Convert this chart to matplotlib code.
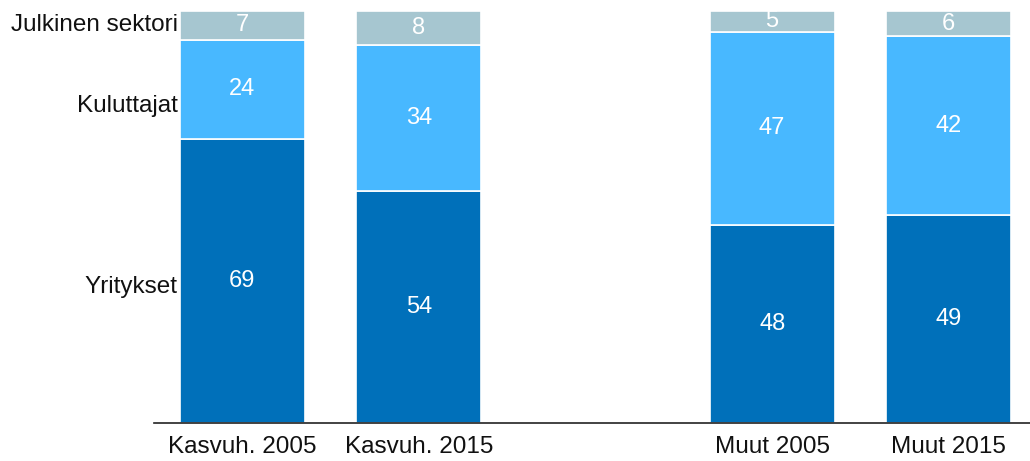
import matplotlib
matplotlib.use("Agg")
import matplotlib.pyplot as plt
import numpy as np

plt.rcParams['font.family'] = ['Liberation Sans', 'DejaVu Sans']

bars = ["Kasvuh. 2005", "Kasvuh. 2015", "Muut 2005", "Muut 2015"]
positions = [0, 1, 3, 4]
series = ["Yritykset", "Kuluttajat", "Julkinen sektori"]
yritykset = [69, 54, 48, 49]
kuluttajat = [24, 34, 47, 42]
julkinen = [7, 8, 5, 6]
label_y = [33, 77, 96.5]

colors = ["#0070BA", "#48B8FF", "#A6C6D0"]

data = np.array([yritykset, kuluttajat, julkinen], dtype=float)
norm = data / data.sum(axis=0) * 100

fig = plt.figure(figsize=(10.30, 4.61), dpi=100)
ax = fig.add_axes([154/1030, 38/461, (1030-154)/1030, 412/461])

bottom = np.zeros(len(bars))
for i, s in enumerate(series):
    ax.bar(positions, norm[i], bottom=bottom, width=0.708, color=colors[i],
           edgecolor="white", linewidth=1.2)
    for x, b, h, v in zip(positions, bottom, norm[i], data[i]):
        ax.text(x, b + h / 2, f"{int(v)}", ha="center", va="center",
                color="white", fontsize=17)
    bottom += norm[i]

for s, y in zip(series, label_y):
    ax.text(-0.365, y, s, ha="right", va="center", fontsize=17.5, color="#111111")

ax.set_xlim(-0.5, 4.46)
ax.set_ylim(0, 100)
ax.set_xticks(positions)
ax.set_xticklabels(bars, fontsize=17.5, color="#111111")
ax.tick_params(axis="x", length=0, pad=9)
ax.set_yticks([])
for sp in ["top", "right", "left"]:
    ax.spines[sp].set_visible(False)
ax.spines["bottom"].set_color("#222222")
ax.spines["bottom"].set_linewidth(1.2)

fig.savefig("out.png", dpi=100)
